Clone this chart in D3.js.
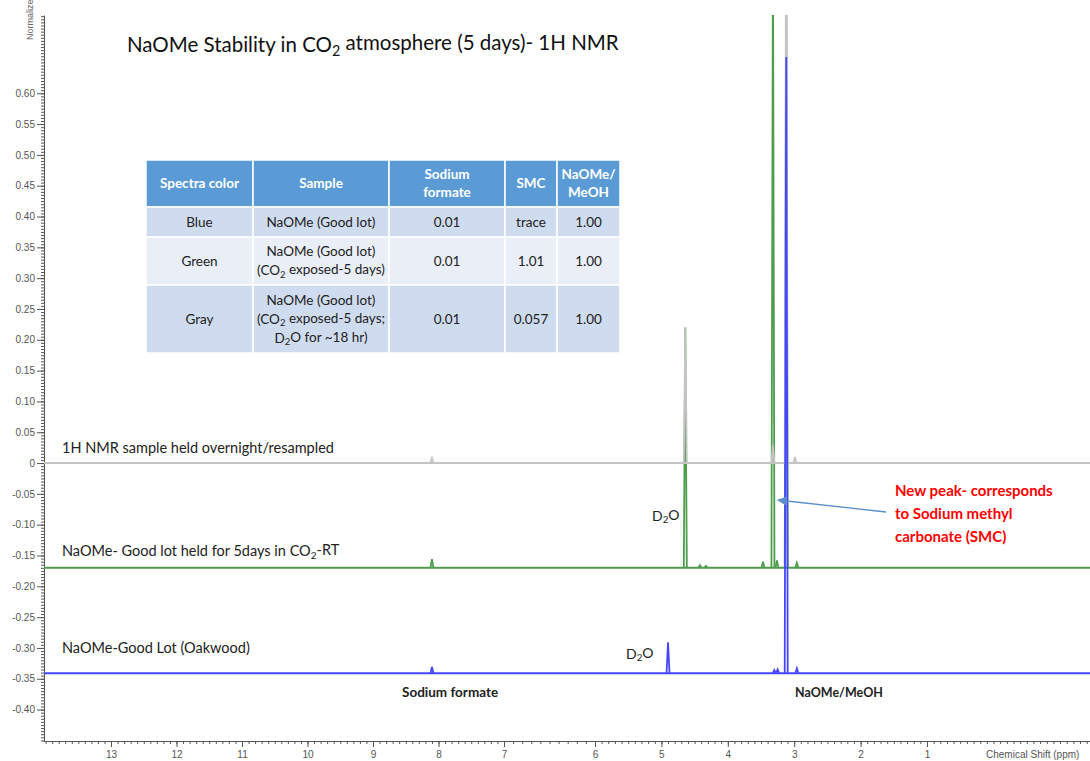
<!DOCTYPE html>
<html>
<head>
<meta charset="utf-8">
<script src="https://cdn.jsdelivr.net/npm/d3@7"></script>
<style>
  body { margin: 0; background: #fff; }
  svg { display: block; font-family: Lato, "Open Sans", sans-serif; }
  .axis text { font-family: "Liberation Sans", Arial, sans-serif; font-size: 10px; fill: #555; }
  .axis path, .axis line { stroke: #555; }
</style>
</head>
<body>
<script>
// chart values
var xTickValues = [13, 12, 11, 10, 9, 8, 7, 6, 5, 4, 3, 2, 1];
var yTickValues = [-0.40, -0.35, -0.30, -0.25, -0.20, -0.15, -0.10, -0.05, 0,
                   0.05, 0.10, 0.15, 0.20, 0.25, 0.30, 0.35, 0.40, 0.45, 0.50, 0.55, 0.60];

// drawn in this order: green, gray, blue
var spectraNames = ["Green", "Gray", "Blue"];
var spectraLabels = ["NaOMe- Good lot held for 5days in CO₂-RT",
                     "1H NMR sample held overnight/resampled",
                     "NaOMe-Good Lot (Oakwood)"];
var spectraOffsets = [-0.170, 0, -0.341];
// peaks: [ppm, height above own baseline]
var greenPeaks = [[8.10, 0.014], [4.64, 0.39], [4.42, 0.004], [4.33, 0.003], [3.47, 0.01],
                  [3.32, 1.01], [3.26, 0.012], [3.12, 1.00], [2.96, 0.008]];
var grayPeaks = [[8.10, 0.008], [4.64, 0.22], [3.32, 0.03], [3.12, 1.00], [2.99, 0.01]];
var bluePeaks = [[8.10, 0.01], [4.90, 0.05], [3.30, 0.005], [3.25, 0.006], [3.12, 1.00], [2.96, 0.008]];

var tableHeader = [["Spectra color"], ["Sample"], ["Sodium", "formate"], ["SMC"], ["NaOMe/", "MeOH"]];
var tableRows = [
  [["Blue"], ["NaOMe (Good lot)"], ["0.01"], ["trace"], ["1.00"]],
  [["Green"], ["NaOMe (Good lot)", "(CO₂ exposed-5 days)"], ["0.01"], ["1.01"], ["1.00"]],
  [["Gray"], ["NaOMe (Good lot)", "(CO₂ exposed-5 days;", "D₂O for ~18 hr)"], ["0.01"], ["0.057"], ["1.00"]]
];

var W = 1090, H = 761;
var colors = {Gray: "#c4c4c4", Green: "#4f9c4f", Blue: "#4646ff"};

var svg = d3.select("body").append("svg").attr("width", W).attr("height", H);

var x = d3.scaleLinear()
  .domain([14.04, 13, 7, 6, 1, -1.45])
  .range([43, 111, 504, 595, 927, 1090]);
var y = d3.scaleLinear().domain([-0.451, 0.727]).range([741, 15]);

// write text that may contain a subscript 2
function richText(sel, str) {
  var parts = str.split("₂");
  parts.forEach(function (p, i) {
    if (i > 0) {
      sel.append("tspan").attr("dy", "0.25em").attr("font-size", "70%").text("2");
      sel.append("tspan").attr("dy", "-0.25em").text(p);
    } else {
      sel.append("tspan").text(p);
    }
  });
}

// axes
var minorX = d3.range(-14, 141).map(function (d) { return d / 10; })
  .filter(function (d) { return d > -1.45 && d < 14.04; });
svg.append("g").attr("class", "axis")
  .attr("transform", "translate(0,741)")
  .call(d3.axisBottom(x).tickValues(minorX).tickSize(3).tickSizeOuter(0).tickFormat(""));
svg.append("g").attr("class", "axis")
  .attr("transform", "translate(0,741)")
  .call(d3.axisBottom(x).tickValues(xTickValues).tickSize(6).tickSizeOuter(0).tickPadding(4)
    .tickFormat(d3.format("d")))
  .call(function (g) { g.select(".domain").remove(); })
  .selectAll("text").attr("font-size", "11px");

var minorY = d3.range(-90, 146).map(function (d) { return d / 200; });
svg.append("g").attr("class", "axis")
  .attr("transform", "translate(44,0)")
  .call(d3.axisLeft(y).tickValues(minorY).tickSize(3).tickSizeOuter(0).tickFormat(""));
svg.append("g").attr("class", "axis")
  .attr("transform", "translate(44,0)")
  .call(d3.axisLeft(y).tickValues(yTickValues).tickSize(7).tickSizeOuter(0).tickPadding(2)
    .tickFormat(function (d) {
      if (Math.abs(d) < 1e-9) return "0";
      return (d < 0 ? "-" : "") + Math.abs(d).toFixed(2);
    }))
  .call(function (g) { g.select(".domain").remove(); })
  .selectAll("text").attr("font-size", "10.5px");

svg.append("text")
  .attr("transform", "translate(33,40) rotate(-90)")
  .attr("font-family", "Liberation Sans, Arial, sans-serif")
  .attr("font-size", 9).attr("fill", "#666")
  .text("Normalized Intensity");

svg.append("text")
  .attr("x", 986).attr("y", 758)
  .attr("font-family", "Liberation Sans, Arial, sans-serif")
  .attr("font-size", 10).attr("fill", "#555")
  .text("Chemical Shift (ppm)");

// spectra
svg.append("clipPath").attr("id", "plot")
  .append("rect").attr("x", 44).attr("y", 15).attr("width", W - 44).attr("height", 726);

var plot = svg.append("g").attr("clip-path", "url(#plot)");
var allPeaks = [greenPeaks, grayPeaks, bluePeaks];

spectraNames.forEach(function (name, i) {
  var base = spectraOffsets[i];
  var g = plot.append("g");
  g.append("line")
    .attr("x1", x(14.04)).attr("x2", x(-1.45))
    .attr("y1", y(base)).attr("y2", y(base))
    .attr("stroke", colors[name]).attr("stroke-width", 2);
  g.selectAll("path").data(allPeaks[i]).enter().append("path")
    .attr("d", function (p) {
      return "M" + (x(p[0]) - 1.5) + "," + y(base) +
        "L" + x(p[0]) + "," + y(base + p[1]) +
        "L" + (x(p[0]) + 1.5) + "," + y(base);
    })
    .attr("fill", "none")
    .attr("stroke", colors[name]).attr("stroke-width", 1.8);
});

// spectrum labels
var labelY = [556, 453, 653];
spectraLabels.forEach(function (t, i) {
  richText(svg.append("text").attr("x", 62).attr("y", labelY[i])
    .attr("font-size", 14.5).attr("fill", "#222"), t);
});

// peak annotations
richText(svg.append("text").attr("x", 652).attr("y", 521).attr("font-size", 14).attr("fill", "#222"), "D₂O");
richText(svg.append("text").attr("x", 626).attr("y", 659).attr("font-size", 14).attr("fill", "#222"), "D₂O");
svg.append("text").attr("x", 402).attr("y", 697).attr("font-size", 13.5).attr("font-weight", "bold")
  .attr("fill", "#222").text("Sodium formate");
svg.append("text").attr("x", 795).attr("y", 697).attr("font-size", 12.5).attr("font-weight", "bold")
  .attr("fill", "#222").text("NaOMe/MeOH");

// arrow + red note
svg.append("defs").append("marker")
  .attr("id", "arr").attr("viewBox", "0 0 10 10").attr("refX", 9).attr("refY", 5)
  .attr("markerWidth", 7).attr("markerHeight", 7).attr("orient", "auto")
  .append("path").attr("d", "M0,0L10,5L0,10z").attr("fill", "#5b8fc9");
svg.append("line")
  .attr("x1", 886).attr("y1", 512).attr("x2", 778).attr("y2", 500)
  .attr("stroke", "#5b8fc9").attr("stroke-width", 1.3).attr("marker-end", "url(#arr)");

var note = ["New peak- corresponds", "to Sodium methyl", "carbonate (SMC)"];
svg.selectAll(".note").data(note).enter().append("text")
  .attr("class", "note")
  .attr("x", 895).attr("y", function (d, i) { return 496 + i * 23; })
  .attr("font-size", 15).attr("font-weight", "bold").attr("fill", "#ff0000")
  .text(function (d) { return d; });

// title
richText(svg.append("text").attr("x", 127).attr("y", 52).attr("font-size", 20.5).attr("fill", "#111"),
  "NaOMe Stability in CO₂ atmosphere (5 days)- 1H NMR");

// table
var colX = [146, 253, 389, 505, 557, 620];
var rowY = [160, 207, 237, 285, 353];
var fills = ["#5b9bd5", "#cfdbee", "#e9eef7", "#cfdbee"];
var table = svg.append("g");
var allRows = [tableHeader].concat(tableRows);

allRows.forEach(function (row, r) {
  row.forEach(function (cell, c) {
    var x0 = colX[c], x1 = colX[c + 1], y0 = rowY[r], y1 = rowY[r + 1];
    table.append("rect")
      .attr("x", x0).attr("y", y0).attr("width", x1 - x0).attr("height", y1 - y0)
      .attr("fill", fills[r]).attr("stroke", "#fff").attr("stroke-width", 1.5);
    var lh = r === 0 ? 18 : 19, cy = (y0 + y1) / 2 - (cell.length - 1) * lh / 2;
    cell.forEach(function (line, k) {
      var t = table.append("text")
        .attr("x", (x0 + x1) / 2).attr("y", cy + k * lh).attr("dy", "0.35em")
        .attr("text-anchor", "middle")
        .attr("font-size", r === 0 ? 13.5 : 13.5)
        .attr("font-weight", r === 0 ? "bold" : "normal")
        .attr("fill", r === 0 ? "#fff" : "#222");
      richText(t, line);
    });
  });
});
</script>
</body>
</html>
